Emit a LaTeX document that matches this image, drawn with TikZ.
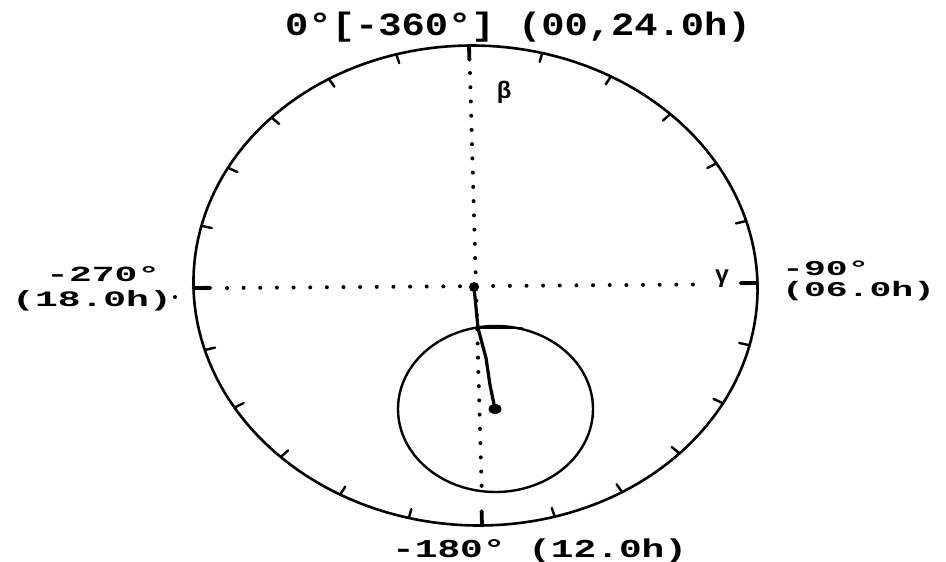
\documentclass[tikz,border=0pt]{standalone}
\usepackage{fontspec}
\usepackage{graphicx}
\newfontfamily\plotfont{Liberation Mono}
\tikzset{
  rim/.style={line width=2.6pt},
  minortick/.style={line width=2.4pt},
  majortick/.style={line width=3.8pt},
  dotv/.style={line width=4pt, line cap=round, dash pattern=on 0pt off 14.24pt},
  doth/.style={line width=4pt, line cap=round, dash pattern=on 0pt off 16.64pt},
  lbl/.style={inner sep=0pt, anchor=base west, font=\plotfont\bfseries\fontsize{20}{22}\selectfont},
  greek/.style={inner sep=0pt, font=\plotfont\bfseries\fontsize{24}{26}\selectfont}
}
\begin{document}
\begin{tikzpicture}[x=1pt,y=-1pt,line join=round,line cap=round]
\useasboundingbox (0,0) rectangle (946,562);
\fill[white] (0,0) rectangle (946,562);
% large ellipse
\draw[rim] plot[domain=0:358,samples=180] ({475.5+282*sin(\x)-6.5*cos(\x)},{285.5-240*cos(\x)-2.5*sin(\x)}) -- cycle;
% minor ticks
\foreach \a in {15,30,45,60,75,105,120,135,150,165,195,210,225,240,255,285,300,315,330,345}{
  \pgfmathsetmacro\px{475.5+282*sin(\a)-6.5*cos(\a)}
  \pgfmathsetmacro\py{285.5-240*cos(\a)-2.5*sin(\a)}
  \draw[minortick] (\px,\py) -- ({475.5+0.962*(\px-475.5)},{285.5+0.962*(\py-285.5)});
}
% major ticks
\foreach \a in {0,90,180,270}{
  \pgfmathsetmacro\px{475.5+282*sin(\a)-6.5*cos(\a)}
  \pgfmathsetmacro\py{285.5-240*cos(\a)-2.5*sin(\a)}
  \draw[majortick] (\px,\py) -- ({475.5+0.94*(\px-475.5)},{285.5+0.94*(\py-285.5)});
}
% dotted axes
\coordinate (vt) at (470,73);
\coordinate (vb) at (482,500);
\coordinate (hl) at (227,288);
\coordinate (hr) at (693,284.5);
\draw[dotv] (vt) -- (vb);
\draw[doth] (hl) -- (hr);
% small circle
\draw[line width=2.4pt] (495.5,409) ellipse [x radius=97.5pt, y radius=83pt];
\coordinate (sa) at (478,328);
\coordinate (sb) at (522,328);
\draw[line width=2.4pt] (sa) -- (sb);
% indicator
\coordinate (c0) at (474,287);
\coordinate (c1) at (486,358);
\coordinate (c2) at (490,385);
\coordinate (c3) at (495,409);
\draw[line width=3.2pt] (c0) -- (sa) -- (c1) -- (c2) -- (c3);
\fill (c0) circle [radius=5pt];
\fill (c3) ellipse [x radius=6.5pt, y radius=5pt];
\fill (175,297) circle [radius=2pt];
% labels
\node[lbl] (top) at (285,35) {\scalebox{1.94}[1.62]{0°[-360°] (00,24.0h)}};
\node[lbl] (left) at (12,281) {\rlap{\hspace{34pt}\scalebox{1.9}[1.08]{-270°}}\raisebox{-25pt}{\scalebox{1.9}[1.1]{(18.0h)}}};
\node[lbl] (right) at (782,275) {\rlap{\scalebox{1.82}[1.05]{-90°}}\raisebox{-21pt}{\scalebox{1.82}[1.05]{(06.0h)}}};
\node[lbl] (bot) at (392,557) {\scalebox{1.89}[1.29]{-180° (12.0h)}};
\node[greek] (beta) at (504,92) {β};
\node[greek] (gamma) at (722,279) {γ};
\end{tikzpicture}
\end{document}
